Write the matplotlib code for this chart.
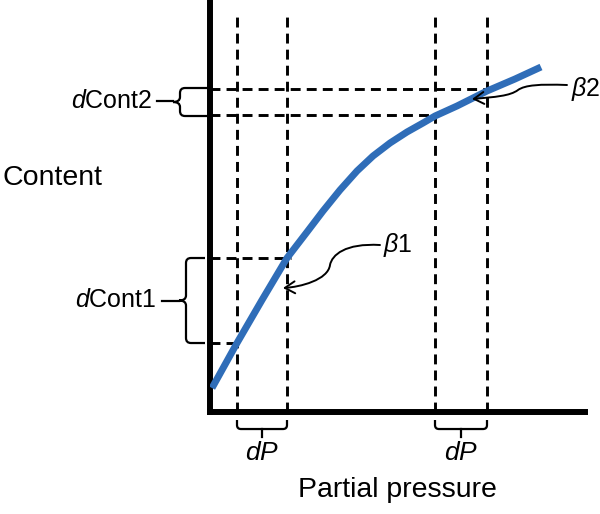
import matplotlib
matplotlib.use("Agg")
import matplotlib.pyplot as plt
from matplotlib.path import Path
from matplotlib.patches import PathPatch, FancyArrowPatch

plt.rcParams["font.family"] = ["Liberation Sans", "DejaVu Sans"]
plt.rcParams["mathtext.fontset"] = "custom"
plt.rcParams["mathtext.rm"] = "Liberation Sans"
plt.rcParams["mathtext.it"] = "Liberation Sans:italic"

# curve: partial pressure vs content (arbitrary units)
pressure = [2, 27, 52, 77, 97, 113, 130, 147, 163, 180, 197, 213, 225,
            247, 267, 277, 305, 331]
content = [24, 69, 112, 154, 180, 201, 222, 241, 256, 269, 280, 289, 296,
           306, 316, 321, 333, 345]

# the two dP intervals and the matching content levels
dp_left = [27, 225]
dp_right = [77, 277]
cont_low = [69, 297]
cont_high = [154, 323]

blue = "#2f6db8"

fig = plt.figure(figsize=(6, 5.14), dpi=100)
ax = fig.add_axes([0.35, 0.1984, 0.625, 0.8016])
ax.set_xlim(0, 375)
ax.set_ylim(0, 412)
ax.set_xticks([])
ax.set_yticks([])
for s in ["top", "right"]:
    ax.spines[s].set_visible(False)
for s in ["left", "bottom"]:
    ax.spines[s].set_linewidth(4.3)
    ax.spines[s].set_capstyle("projecting")

# dashed guides
dash = dict(color="black", lw=2.1, dashes=(3.4, 2.1), clip_on=False)
for x in dp_left + dp_right:
    ax.plot([x, x], [0, 398], **dash)
ax.plot([0, dp_left[0]], [cont_low[0], cont_low[0]], **dash)
ax.plot([0, dp_right[0] + 4], [cont_high[0], cont_high[0]], **dash)
ax.plot([0, dp_left[1]], [cont_low[1], cont_low[1]], **dash)
ax.plot([0, dp_right[1] + 4], [cont_high[1], cont_high[1]], **dash)

ax.plot(pressure, content, color=blue, lw=5, solid_capstyle="butt",
        solid_joinstyle="round", zorder=5)


def brace_v(x_arm, x_sp, y0, y1, tip, r=5):
    ym = (y0 + y1) / 2
    verts = [(x_arm, y1), (x_sp + r, y1), (x_sp, y1), (x_sp, y1 - r),
             (x_sp, ym + r), (x_sp, ym), (tip, ym), (x_sp, ym), (x_sp, ym - r),
             (x_sp, y0 + r), (x_sp, y0), (x_sp + r, y0), (x_arm, y0)]
    codes = [Path.MOVETO, Path.LINETO, Path.CURVE3, Path.CURVE3,
             Path.LINETO, Path.CURVE3, Path.CURVE3, Path.CURVE3, Path.CURVE3,
             Path.LINETO, Path.CURVE3, Path.CURVE3, Path.LINETO]
    ax.add_patch(PathPatch(Path(verts, codes), fill=False, lw=1.6,
                           clip_on=False, capstyle="butt"))


def brace_h(x0, x1, y_top, y_sp, tip, r=4):
    xm = (x0 + x1) / 2
    verts = [(x0, y_top), (x0, y_sp + r), (x0, y_sp), (x0 + r, y_sp),
             (x1 - r, y_sp), (x1, y_sp), (x1, y_sp + r), (x1, y_top)]
    codes = [Path.MOVETO, Path.LINETO, Path.CURVE3, Path.CURVE3,
             Path.LINETO, Path.CURVE3, Path.CURVE3, Path.LINETO]
    ax.add_patch(PathPatch(Path(verts, codes), fill=False, lw=1.6, clip_on=False))
    ax.plot([xm, xm], [y_sp, tip], color="black", lw=1.6, clip_on=False)


# content braces
brace_v(-5, -24, cont_low[0], cont_high[0], -31)
ax.plot([-31, -48], [111.5, 111.5], color="black", lw=1.6, clip_on=False)
brace_v(-1, -30, cont_low[1] - 1, cont_high[1] + 1, -37)
ax.plot([-37, -53], [311, 311], color="black", lw=1.6, clip_on=False)

# pressure braces
for a, b in zip(dp_left, dp_right):
    brace_h(a, b, -8, -17, -25)
    ax.text((a + b) / 2, -41, "$d$P", fontsize=19, ha="center", va="center",
            style="italic")

ax.text(-54, 112, "$d$Cont1", fontsize=18, ha="right", va="center")
ax.text(-58, 311, "$d$Cont2", fontsize=18, ha="right", va="center")
ax.text(-208, 234, "Content", fontsize=20.5, ha="left", va="center")
ax.text(187, -78, "Partial pressure", fontsize=20.5, ha="center", va="center")

# beta labels with curved arrows
ax.text(173, 167, r"$\beta$1", fontsize=18, ha="left", va="center")
ax.text(361, 323, r"$\beta$2", fontsize=18, ha="left", va="center")

arrow_kw = dict(arrowstyle="->,head_length=0.72,head_width=0.43",
                mutation_scale=10, lw=1.4, color="black", clip_on=False,
                zorder=6)
p1 = Path([(170, 167), (135, 169), (122, 157), (120, 147),
           (118, 132), (90, 125), (73, 124)],
          [Path.MOVETO, Path.CURVE4, Path.CURVE4, Path.CURVE4,
           Path.CURVE4, Path.CURVE4, Path.CURVE4])
ax.add_patch(FancyArrowPatch(path=p1, **arrow_kw))
p2 = Path([(357, 327), (330, 328), (315, 327), (308, 322),
           (300, 316), (285, 315), (262, 313)],
          [Path.MOVETO, Path.CURVE4, Path.CURVE4, Path.CURVE4,
           Path.CURVE4, Path.CURVE4, Path.CURVE4])
ax.add_patch(FancyArrowPatch(path=p2, **arrow_kw))

fig.savefig("out.png", dpi=100)
